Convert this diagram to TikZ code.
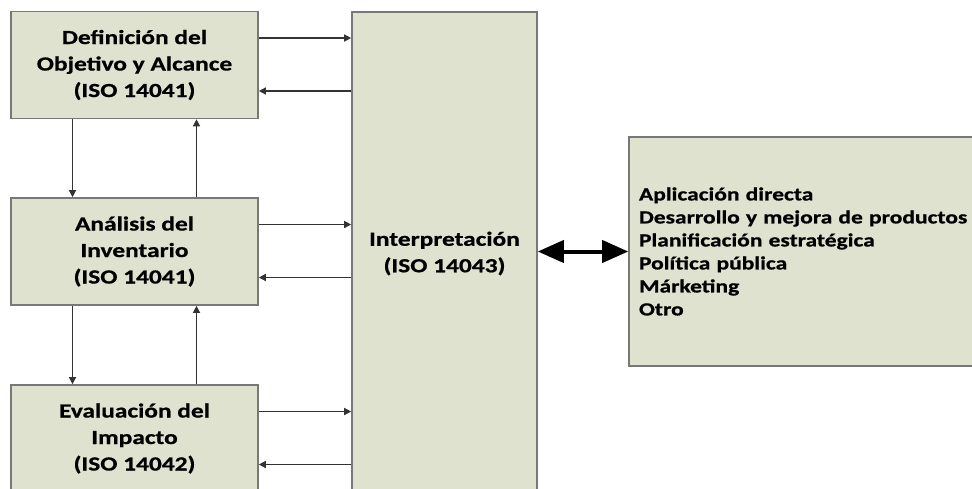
\documentclass[tikz,border=0pt]{standalone}
\usepackage{fontspec}
\setmainfont{Carlito}
\newfontfamily\stagefont[FakeStretch=1.27,FakeBold=0.8]{Carlito}
\usetikzlibrary{arrows.meta}
\definecolor{boxfill}{RGB}{222,226,206}
\definecolor{boxline}{RGB}{120,120,120}
\tikzset{
  stage/.style={draw=boxline,line width=1.6pt,fill=boxfill,minimum width=247pt,
    minimum height=107pt,inner sep=0pt,align=center,font=\stagefont\fontsize{20}{26.5}\selectfont\bfseries},
  link/.style={draw=black!80,line width=1.3pt,-{Triangle[length=7pt,width=7pt]}}
}
\begin{document}
\begin{tikzpicture}[x=1pt,y=-1pt]
\useasboundingbox (0,0) rectangle (972,488);

\node[stage] (def) at (134.5,65) {Definición del\\Objetivo y Alcance\\(ISO 14041)};
\node[stage] (inv) at (134.5,251.5) {Análisis del\\Inventario\\(ISO 14041)};
\node[stage] (imp) at (134.5,438.5) {Evaluación del\\Impacto\\(ISO 14042)};
\node[stage,minimum width=185pt,minimum height=483pt] (int) at (444.5,253.5) {Interpretación\\(ISO 14043)};
\node[stage,minimum width=355pt,minimum height=229pt,text width=335pt,align=left,
  font=\stagefont\fontsize{18.5}{23}\selectfont\bfseries] (app) at (806.5,251.5)
  {Aplicación directa\\Desarrollo y mejora de productos\\Planificación estratégica\\Política pública\\Márketing\\Otro};

% stages to interpretation and back
\foreach \s in {def,inv,imp}{
  \draw[link] ([yshift=27pt]\s.east) -- ([yshift=27pt]\s.east -| int.west);
  \draw[link] ([yshift=-26pt]\s.east -| int.west) -- ([yshift=-26pt]\s.east);
}

% between stages
\draw[link] ([xshift=-62pt]def.south) -- ([xshift=-62pt]inv.north);
\draw[link] ([xshift=62pt]inv.north) -- ([xshift=62pt]def.south);
\draw[link] ([xshift=-62pt]inv.south) -- ([xshift=-62pt]imp.north);
\draw[link] ([xshift=62pt]imp.north) -- ([xshift=62pt]inv.south);

\draw[line width=4pt,{Triangle[length=26pt,width=22pt]}-{Triangle[length=26pt,width=22pt]}]
  (int.east |- app.west) -- (app.west);
\end{tikzpicture}
\end{document}
